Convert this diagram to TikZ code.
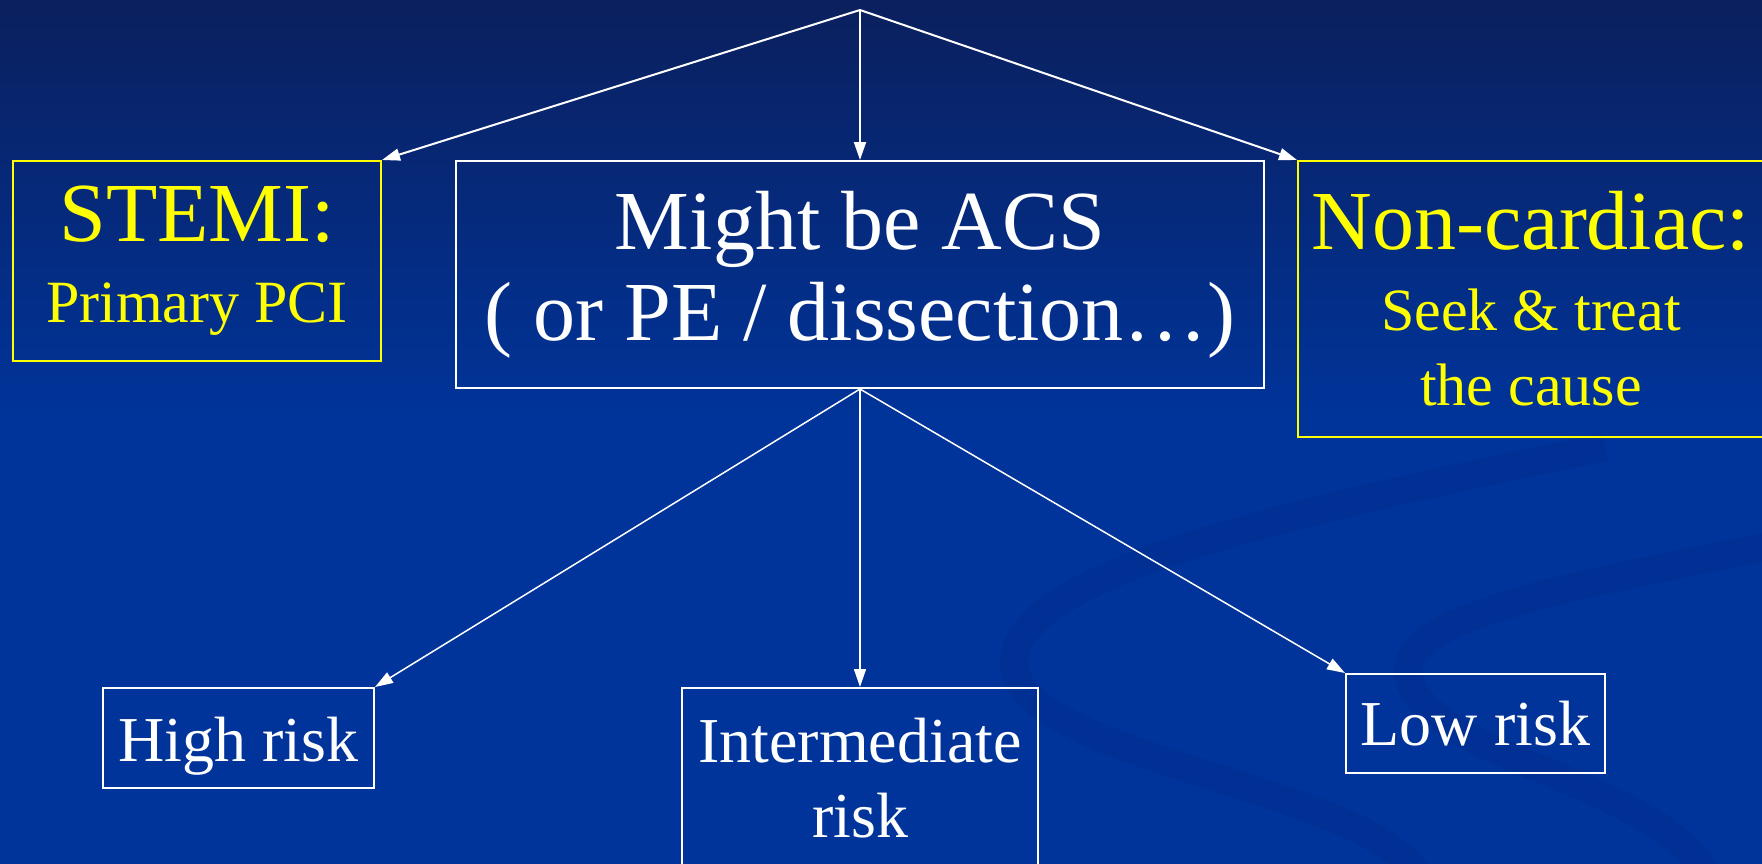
\documentclass[tikz,border=0pt]{standalone}
\usepackage{fontspec}
\setmainfont{Liberation Serif}
\usetikzlibrary{positioning,arrows.meta}

\definecolor{slidetop}{RGB}{11,31,92}
\definecolor{slideblue}{RGB}{0,52,154}
\definecolor{swirlblue}{RGB}{0,48,147}
\definecolor{hiyellow}{RGB}{255,255,0}

\newcommand{\bigtext}{\fontsize{42}{45.5}\selectfont}
\newcommand{\smalltext}{\fontsize{30}{37.5}\selectfont}

\tikzset{
    box/.style={draw=white, line width=1pt, text=white, inner sep=0pt, align=center},
    ybox/.style={box, draw=hiyellow, text=hiyellow},
    flow/.style={draw=white, line width=1pt, -{Triangle[length=9pt,width=6pt]}},
    subflow/.style={flow, line width=0.75pt}
}

\begin{document}
\begin{tikzpicture}[x=0.5pt, y=-0.5pt]
    \useasboundingbox (0,0) rectangle (1762,863);
    \fill[slideblue] (-10,-10) rectangle (1772,873);
    \shade[top color=slidetop, bottom color=slideblue] (-10,-10) rectangle (1772,420);
    % swirls in the background
    \draw[swirlblue, line width=14pt] (1605,447) .. controls (1250,520) and (1000,580) .. (1015,670)
        .. controls (1030,760) and (1380,790) .. (1420,880);
    \draw[swirlblue, line width=14pt] (1775,545) .. controls (1550,590) and (1390,620) .. (1410,680)
        .. controls (1430,760) and (1660,780) .. (1710,880);

    \node[ybox, font=\fontsize{42}{40.5}\selectfont, minimum width=184pt, minimum height=100pt] (stemi) at (197,261) {STEMI:\\{\smalltext Primary PCI}};
    \node[box, font=\bigtext, minimum width=404pt, minimum height=113.5pt] (acs) at (860,274.5) {Might be ACS\\( or PE / dissection…)};
    \node[ybox, font=\smalltext, minimum width=233pt, minimum height=138pt] (noncard) at (1531,299) {{\bigtext Non-cardiac:}\\[3pt]Seek \& treat\\the cause};

    \node[box, font=\fontsize{32}{38}\selectfont, text height=25pt, text depth=2pt, minimum width=135.5pt, minimum height=50pt] (high) at (238.5,738) {High risk};
    \node[box, font=\fontsize{32}{37.5}\selectfont, minimum width=178pt, minimum height=90pt] (inter) at (860,778) {Intermediate\\risk};
    \node[box, font=\fontsize{32}{38}\selectfont, minimum width=129.5pt, minimum height=49.5pt] (low) at (1475.5,723.5) {Low risk};

    \coordinate (apex) at (860,10);
    \draw[flow] (apex) -- (stemi.north east);
    \draw[flow] (apex) -- (acs.north);
    \draw[flow] (apex) -- (noncard.north west);

    \draw[subflow] (acs.south) -- (high.north east);
    \draw[subflow] (acs.south) -- (inter.north);
    \draw[subflow] (acs.south) -- (low.north west);
\end{tikzpicture}
\end{document}
